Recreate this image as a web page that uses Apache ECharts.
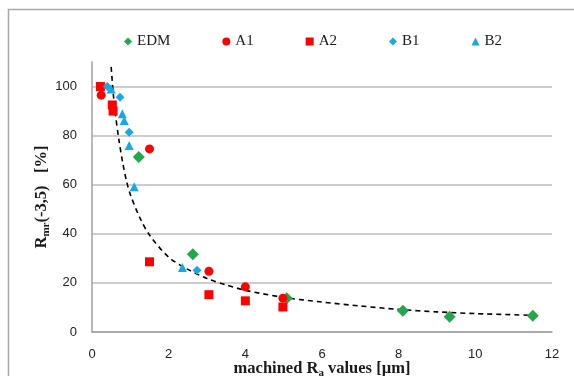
<!DOCTYPE html>
<html>
<head>
<meta charset="utf-8">
<script src="https://cdn.jsdelivr.net/npm/echarts@6/dist/echarts.min.js"></script>
<style>html,body{margin:0;padding:0;background:#fff;}#c{width:574px;height:376px;}</style>
</head>
<body>
<div id="c"></div>
<script>
// Data: [machined Ra (µm), Rmr(-3,5) (%)]
const seriesNames = ['EDM', 'A1', 'A2', 'B1', 'B2'];
const edm = [[1.22, 71.3], [2.63, 31.7], [5.08, 13.7], [8.11, 8.7], [9.33, 6.2], [11.5, 6.6]];
const a1 = [[0.24, 96.5], [1.5, 74.6], [3.05, 24.7], [4.0, 18.4], [4.98, 13.8]];
const a2 = [[0.22, 100], [0.53, 92.5], [0.55, 90], [1.5, 28.6], [3.05, 15.2], [4.0, 12.7], [4.98, 10.2]];
const b1 = [[0.4, 100], [0.73, 95.6], [0.97, 81.4], [2.74, 25.2]];
const b2 = [[0.5, 99], [0.79, 88.9], [0.84, 86.2], [0.97, 76], [1.1, 59.2], [2.36, 26.3]];
// Points
const trend = [[0.5, 108], [0.55, 98], [0.6, 90], [0.7, 78.5], [0.8, 69], [0.9, 61.5], [1.0, 56],
  [1.25, 46.5], [1.5, 39.5], [2.0, 30.5], [2.5, 25.5], [3.0, 21.8], [3.5, 19.2], [4.0, 17],
  [5.0, 14.1], [6.0, 12.2], [7.0, 10.6], [8.0, 9.2], [9.0, 8.2], [10.0, 7.5], [11.5, 6.8]];
const xTicks = [0, 2, 4, 6, 8, 10, 12];
const yTicks = [0, 20, 40, 60, 80, 100];

const GREEN = '#22A84A', RED = '#FF0000', BLUE = '#16A9EA';
const chart = echarts.init(document.getElementById('c'), null, {renderer: 'canvas'});
const serif = '"Liberation Serif", "DejaVu Serif", serif';
const sans = '"Liberation Sans", "DejaVu Sans", sans-serif';
const nameRich = {
  b: {fontFamily: serif, fontWeight: 'bold', fontSize: 16.5, color: '#1a1a1a', verticalAlign: 'bottom', lineHeight: 19},
  s: {fontFamily: serif, fontWeight: 'bold', fontSize: 11, color: '#1a1a1a', verticalAlign: 'bottom', lineHeight: 19, padding: [0, 0, -2, 0]}
};

chart.setOption({
  animation: false,
  backgroundColor: '#fff',
  graphic: [{
    type: 'rect', silent: true, z: -1,
    shape: {x: 8.5, y: 9.5, width: 620, height: 420},
    style: {fill: 'none', stroke: '#a9a9a9', lineWidth: 1.5}
  }],
  legend: {
    data: seriesNames,
    left: 119, top: 29,
    itemGap: 52, itemWidth: 8, itemHeight: 8,
    textStyle: {fontFamily: serif, fontSize: 15, color: '#1a1a1a'}
  },
  grid: {left: 92, right: 22, top: 62, bottom: 44, outerBoundsMode: 'none', containLabel: false},
  xAxis: {
    type: 'value', min: xTicks[0], max: xTicks[xTicks.length - 1], interval: 2,
    axisLine: {lineStyle: {color: '#a0a0a0', width: 1.5}},
    axisTick: {show: false},
    splitLine: {show: false},
    axisLabel: {fontFamily: sans, fontSize: 13, color: '#222', margin: 16},
    name: '{b|machined R}{s|a}{b| values [µm]}',
    nameLocation: 'middle', nameGap: 26, nameMoveOverlap: false,
    nameTextStyle: {rich: nameRich}
  },
  yAxis: {
    type: 'value', min: 0, max: 110, interval: 20,
    axisLine: {show: true, lineStyle: {color: '#a0a0a0', width: 1.5}},
    axisTick: {show: false},
    splitLine: {show: true, lineStyle: {color: ['#bdbdbd', '#bdbdbd', '#bdbdbd', '#bdbdbd', '#bdbdbd', '#bdbdbd', 'rgba(0,0,0,0)'], width: 1.5}},
    axisLabel: {fontFamily: sans, fontSize: 13, color: '#222', margin: 15, showMaxLabel: false,
      formatter: v => (yTicks.indexOf(v) >= 0 ? String(v) : '')},
    name: '{b|R}{s|mr}{b|(-3,5)   [%]}',
    nameLocation: 'middle', nameGap: 42, nameRotate: 90, nameMoveOverlap: false,
    nameTextStyle: {rich: nameRich}
  },
  series: [
    {name: 'trend', type: 'line', data: trend, smooth: 0.3, symbol: 'none',
     lineStyle: {color: '#000', width: 1.6, type: [5, 4]}, z: 1, silent: true},
    {name: 'EDM', type: 'scatter', data: edm, symbol: 'diamond', symbolSize: 12, itemStyle: {color: GREEN, opacity: 1}, z: 3},
    {name: 'A1', type: 'scatter', data: a1, symbol: 'circle', symbolSize: 9, itemStyle: {color: RED, opacity: 1}, z: 3},
    {name: 'A2', type: 'scatter', data: a2, symbol: 'rect', symbolSize: 9, itemStyle: {color: RED, opacity: 1}, z: 3},
    {name: 'B1', type: 'scatter', data: b1, symbol: 'diamond', symbolSize: 9, itemStyle: {color: BLUE, opacity: 1}, z: 3},
    {name: 'B2', type: 'scatter', data: b2, symbol: 'triangle', symbolSize: 9, itemStyle: {color: BLUE, opacity: 1}, z: 3}
  ]
});
</script>
</body>
</html>
